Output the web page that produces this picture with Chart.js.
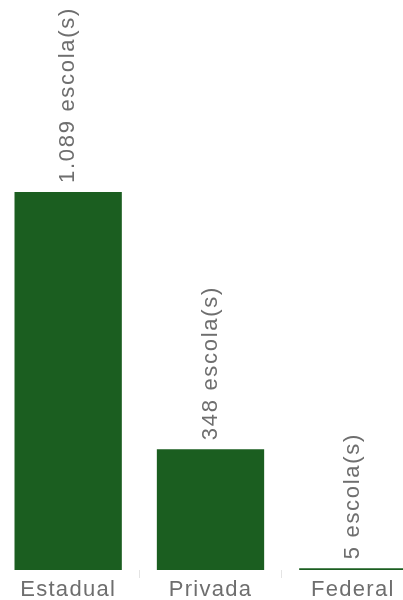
<!DOCTYPE html>
<html>
<head>
<meta charset="utf-8">
<script src="https://cdn.jsdelivr.net/npm/chart.js@4"></script>
<style>
    html, body { margin: 0; padding: 0; background: #fff; overflow: hidden; }
    #wrap { position: absolute; left: -3px; top: 0; width: 427px; height: 600px; }
</style>
</head>
<body>
<div id="wrap"><canvas id="chart"></canvas></div>
<script>
const categories = ['Estadual', 'Privada', 'Federal'];
const schools = [1089, 348, 5];
const yMax = 1642;

const fontFamily = '"Liberation Sans", Arial, sans-serif';

function fmt(n) {
    return String(n).replace(/\B(?=(\d{3})+(?!\d))/g, '.');
}

// rotated value labels above the bars + category labels under them
const textLabels = {
    id: 'textLabels',
    afterDatasetsDraw(chart) {
        const ctx = chart.ctx;
        const meta = chart.getDatasetMeta(0);
        ctx.save();
        ctx.font = '22px ' + fontFamily;
        ctx.fillStyle = '#6e6e6e';

        ctx.letterSpacing = '1.7px';
        ctx.textAlign = 'left';
        ctx.textBaseline = 'middle';
        meta.data.forEach((bar, i) => {
            ctx.save();
            ctx.translate(bar.x, bar.y - 9);
            ctx.rotate(-Math.PI / 2);
            ctx.fillText(fmt(schools[i]) + ' escola(s)', 0, 0);
            ctx.restore();
        });

        const x = chart.scales.x;
        ctx.letterSpacing = '1.3px';
        ctx.textAlign = 'center';
        ctx.textBaseline = 'alphabetic';
        categories.forEach((c, i) => {
            ctx.fillText(c, x.getPixelForTick(i), chart.chartArea.bottom + 26);
        });
        ctx.restore();
    }
};

new Chart(document.getElementById('chart'), {
    type: 'bar',
    data: {
        labels: categories,
        datasets: [{
            data: schools,
            backgroundColor: '#1b5e20',
            categoryPercentage: 1,
            barPercentage: 0.754
        }]
    },
    options: {
        responsive: true,
        maintainAspectRatio: false,
        animation: false,
        layout: { padding: 0 },
        plugins: {
            legend: { display: false },
            tooltip: { enabled: false }
        },
        scales: {
            x: {
                offset: true,
                border: { display: false },
                grid: {
                    offset: true,
                    drawOnChartArea: false,
                    tickLength: 8,
                    color: '#e4e4e4'
                },
                ticks: {
                    color: 'rgba(0,0,0,0)',
                    padding: 0,
                    font: { size: 22, family: fontFamily }
                },
                afterFit: s => { s.height = 30; }
            },
            y: {
                display: false,
                min: 0,
                max: yMax
            }
        }
    },
    plugins: [textLabels]
});
</script>
</body>
</html>
